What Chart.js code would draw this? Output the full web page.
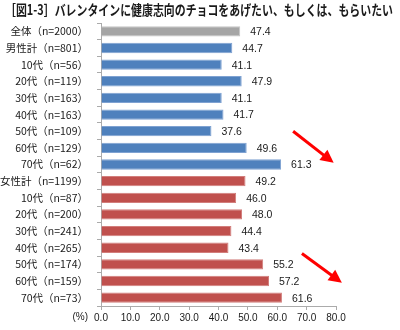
<!DOCTYPE html>
<html lang="ja">
<head>
<meta charset="utf-8">
<script src="https://cdn.jsdelivr.net/npm/chart.js@4/dist/chart.umd.min.js"></script>
<style>
  html, body { margin: 0; padding: 0; background: #ffffff; }
  #wrap { width: 400px; height: 330px; position: relative; }
</style>
</head>
<body>
<div id="wrap"><canvas id="c" width="400" height="330"></canvas></div>
<script>
// Survey groups and the share (%) who want to give or receive health-oriented chocolate
const chartTitle = '［図1-3］バレンタインに健康志向のチョコをあげたい、もしくは、もらいたい';
const categories = [
  '全体（n=2000）',
  '男性計（n=801）',
  '10代（n=56）',
  '20代（n=119）',
  '30代（n=163）',
  '40代（n=163）',
  '50代（n=109）',
  '60代（n=129）',
  '70代（n=62）',
  '女性計（n=1199）',
  '10代（n=87）',
  '20代（n=200）',
  '30代（n=241）',
  '40代（n=265）',
  '50代（n=174）',
  '60代（n=159）',
  '70代（n=73）'
];
const values = [47.4, 44.7, 41.1, 47.9, 41.1, 41.7, 37.6, 49.6, 61.3, 49.2, 46.0, 48.0, 44.4, 43.4, 55.2, 57.2, 61.6];
// group of each row: total, male, female
const groups = ['total', 'male', 'male', 'male', 'male', 'male', 'male', 'male', 'male',
                'female', 'female', 'female', 'female', 'female', 'female', 'female', 'female'];
const axisMin = 0;
const axisMax = 80;
const axisStep = 10;
const unitLabel = '(%)';

const groupFill = { total: '#A5A5A5', male: '#4F81BD', female: '#C0504D' };
const groupEdge = { total: '#C4C4C4', male: '#7FA2D2', female: '#D27E7C' };

// Trend arrows pointing at the rising older-age bars, in axis units (x: %, y: row index)
const arrows = [
  { from: [65.4, 6.0], to: [79.2, 7.9] },
  { from: [68.4, 13.35], to: [82.0, 15.1] }
];

const FONT_CJK = '"Noto Sans CJK JP", "Noto Sans", sans-serif';
const FONT_NUM = '"Liberation Sans", "DejaVu Sans", sans-serif';

const decorations = {
  id: 'decorations',
  afterDatasetsDraw(chart) {
    const ctx = chart.ctx;
    const xs = chart.scales.x;
    const ys = chart.scales.y;
    const meta = chart.getDatasetMeta(0);

    // value labels to the right of each bar
    ctx.save();
    ctx.fillStyle = '#1a1a1a';
    ctx.font = '10.5px ' + FONT_NUM;
    ctx.textAlign = 'left';
    ctx.textBaseline = 'middle';
    meta.data.forEach((bar, i) => {
      ctx.fillText(values[i].toFixed(1), bar.x + 10, bar.y + 1);
    });
    ctx.restore();

    // unit label beside the x tick labels
    ctx.save();
    ctx.fillStyle = '#1a1a1a';
    ctx.font = '10px ' + FONT_NUM;
    ctx.textAlign = 'right';
    ctx.textBaseline = 'middle';
    ctx.fillText(unitLabel, chart.chartArea.left - 13, chart.chartArea.bottom + 11);
    ctx.restore();

    // red arrows
    ctx.save();
    ctx.strokeStyle = '#FF0000';
    ctx.fillStyle = '#FF0000';
    ctx.lineWidth = 3;
    arrows.forEach(a => {
      const x1 = xs.getPixelForValue(a.from[0]);
      const y1 = ys.getPixelForValue(a.from[1]);
      const x2 = xs.getPixelForValue(a.to[0]);
      const y2 = ys.getPixelForValue(a.to[1]);
      const ang = Math.atan2(y2 - y1, x2 - x1);
      const headLen = 13, headHalf = 6.5;
      const bx = x2 - headLen * Math.cos(ang);
      const by = y2 - headLen * Math.sin(ang);
      ctx.beginPath();
      ctx.moveTo(x1, y1);
      ctx.lineTo(bx + 2 * Math.cos(ang), by + 2 * Math.sin(ang));
      ctx.stroke();
      ctx.beginPath();
      ctx.moveTo(x2, y2);
      ctx.lineTo(bx + headHalf * Math.sin(ang), by - headHalf * Math.cos(ang));
      ctx.lineTo(bx - headHalf * Math.sin(ang), by + headHalf * Math.cos(ang));
      ctx.closePath();
      ctx.fill();
    });
    ctx.restore();
  },
  afterDraw(chart) {
    // chart heading
    const ctx = chart.ctx;
    ctx.save();
    ctx.fillStyle = '#1a1a1a';
    ctx.font = 'bold 14px ' + FONT_CJK;
    ctx.textAlign = 'left';
    ctx.textBaseline = 'middle';
    ctx.fillText(chartTitle, 5, 10, 388);
    ctx.restore();
  }
};

new Chart(document.getElementById('c'), {
  type: 'bar',
  data: {
    labels: categories,
    datasets: [{
      data: values,
      backgroundColor: groups.map(g => groupFill[g]),
      borderColor: groups.map(g => groupEdge[g]),
      borderWidth: 1,
      barPercentage: 0.62,
      categoryPercentage: 1.0
    }]
  },
  options: {
    indexAxis: 'y',
    responsive: false,
    animation: false,
    devicePixelRatio: 1,
    layout: { padding: { top: 23, right: 64, bottom: 0, left: 0 } },
    plugins: {
      legend: { display: false },
      tooltip: { enabled: false }
    },
    scales: {
      x: {
        min: axisMin,
        max: axisMax,
        afterFit(scale) { scale.height = 24; },
        border: { display: true, color: '#ABABAB', width: 1 },
        grid: {
          drawOnChartArea: false,
          drawTicks: true,
          tickLength: 4,
          color: '#ABABAB'
        },
        ticks: {
          stepSize: axisStep,
          padding: 2,
          color: '#1a1a1a',
          font: { family: FONT_NUM, size: 10 },
          callback: v => Number(v).toFixed(1)
        }
      },
      y: {
        afterFit(scale) { scale.width = 101; },
        border: { display: true, color: '#ABABAB', width: 1 },
        grid: {
          offset: true,
          drawOnChartArea: false,
          drawTicks: true,
          tickLength: 4,
          color: '#ABABAB'
        },
        ticks: {
          padding: 9,
          color: '#1a1a1a',
          font: { family: FONT_CJK, size: 10.5 },
          autoSkip: false
        }
      }
    }
  },
  plugins: [decorations]
});
</script>
</body>
</html>
